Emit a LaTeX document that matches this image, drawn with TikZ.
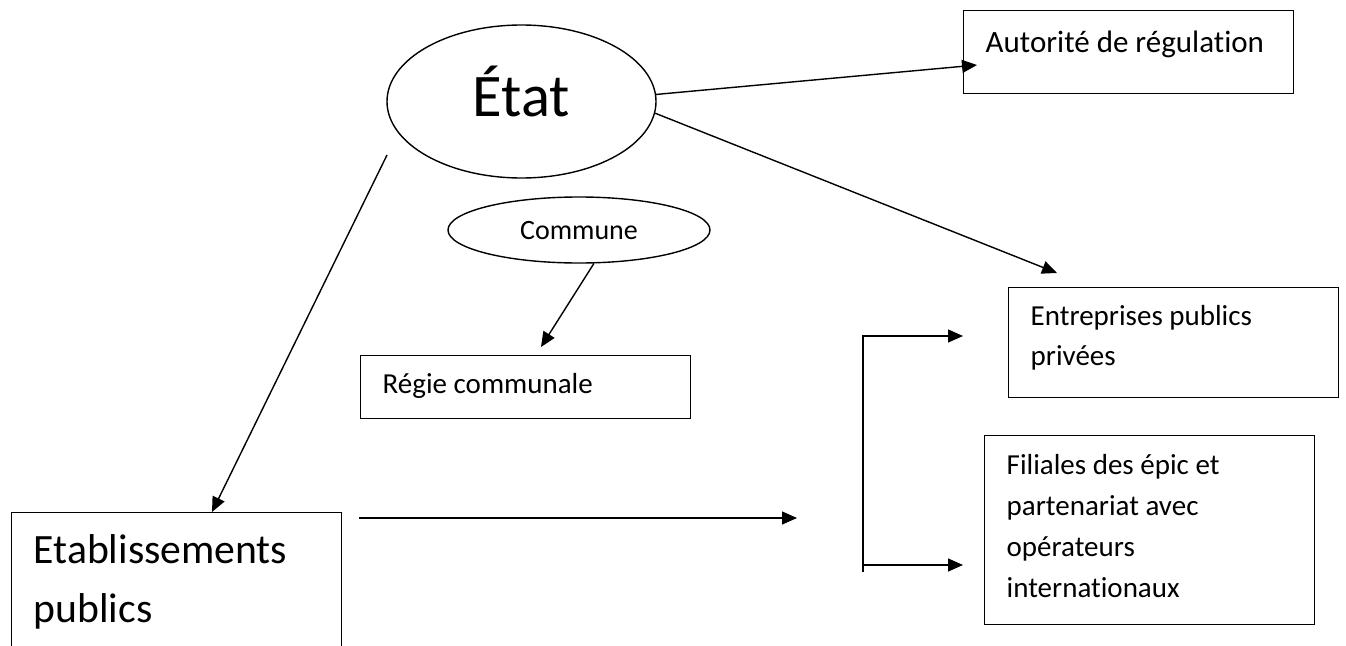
\documentclass[tikz,border=0pt]{standalone}
\usepackage{fontspec}
\setmainfont{Carlito}[Ligatures={NoCommon,NoContextual}, RawFeature={-liga;-clig;-dlig}]
\usetikzlibrary{arrows.meta,shapes.geometric}
\begin{document}
\begin{tikzpicture}[x=1pt,y=-1pt,
  line width=1.4pt,
  conn/.style={-{Triangle[length=15pt,width=13pt]}, line width=1.4pt},
  boxnode/.style={draw, rectangle, anchor=north west, inner xsep=22pt, inner ysep=0pt, text width=286pt, align=flush left},
  oval/.style={draw, ellipse, inner sep=0pt}]
\useasboundingbox (0,0) rectangle (1346,645);
\clip (0,0) rectangle (1346,645);

% ellipses
\node[oval, minimum width=269pt, minimum height=153pt, font=\fontsize{60.5}{70}\selectfont, text height=45pt, text depth=16pt] (etat) at (521.5,101.5) {État\hspace{14pt}};
\node[oval, minimum width=262pt, minimum height=66pt, font=\fontsize{28}{34}\selectfont, text height=23pt, text depth=4pt] (com) at (579,230) {Commune\hspace{32pt}};

% boxes
\node[boxnode, font=\fontsize{31}{38}\selectfont, text height=42pt, text depth=41pt] (aut) at (963,10) {Autorité de régulation};
\node[boxnode, font=\fontsize{29}{40}\selectfont, text height=38pt, text depth=72pt] (ent) at (1008,287) {Entreprises publics\\privées};
\node[boxnode, font=\fontsize{29}{41}\selectfont, text height=39pt, text depth=150pt] (fil) at (984,435) {Filiales des épic et\\partenariat avec\\opérateurs\\internationaux};
\node[boxnode, font=\fontsize{29}{35}\selectfont, text height=38pt, text depth=25pt] (reg) at (360,355) {Régie communale};
\node[boxnode, font=\fontsize{41.7}{59}\selectfont, text height=51pt, text depth=137pt] (etab) at (11,512) {Etablissements\\publics};

% connector end points
\coordinate (autTip) at (977,65);
\coordinate (entTip) at (1057,273);
\coordinate (etabStart) at (387,155);
\coordinate (etabTip) at (212,512);
\coordinate (regTip) at (541,347);
\coordinate (hStart) at (359,518);
\coordinate (hTip) at (797,518);
\coordinate (brTop) at (863,336);
\coordinate (brBot) at (863,572);
\coordinate (brMid) at (863,565);
\coordinate (brTopTip) at (963,336);
\coordinate (brMidTip) at (963,565);

% connectors
\draw[conn] (etat.3.6) -- (autTip);
\draw[conn] (etat.-5.7) -- (entTip);
\draw[conn] (etabStart) -- (etabTip);
\draw[conn] (com.-66) -- (regTip);
\draw[conn] (hStart) -- (hTip);
\draw[conn] (brBot) -- (brTop) -- (brTopTip);
\draw[conn] (brMid) -- (brMidTip);
\end{tikzpicture}
\end{document}
